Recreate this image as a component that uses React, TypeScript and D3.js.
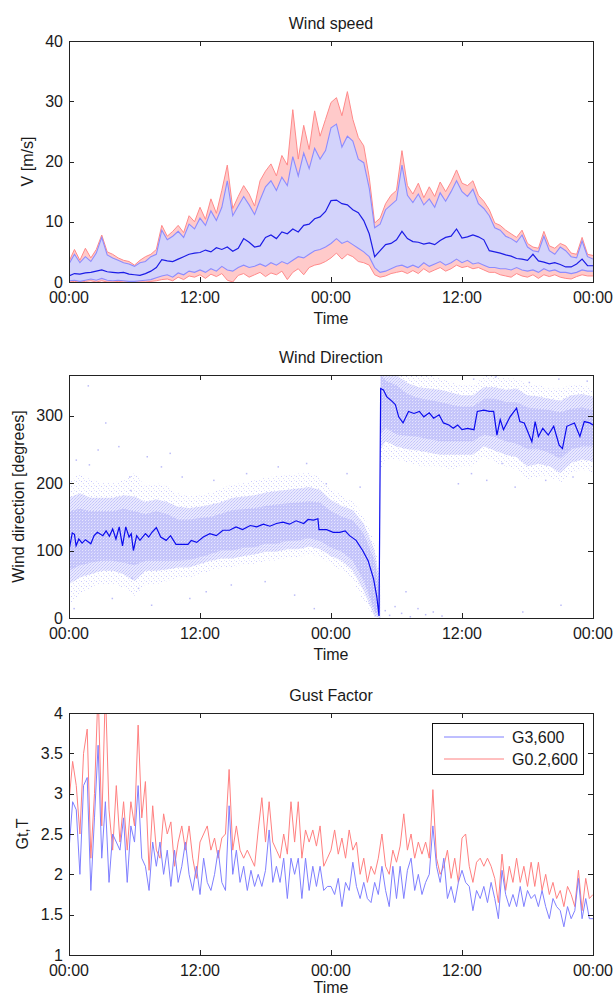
import React from 'react';
import * as d3 from 'd3';

const W = 614;
const H = 996;
const FONT = '"Liberation Sans", Arial, sans-serif';

// x axis: 48 hours
const xTicks = [0, 12, 24, 36, 48];
const xTickLabels = ['00:00', '12:00', '00:00', '12:00', '00:00'];

// ---- Wind speed (every 30 min) ----
const wsMean = [
  1.0, 1.4, 1.3, 1.5, 1.6, 1.8, 2.0, 1.7, 1.6, 1.5,
  1.6, 1.3, 1.2, 1.1, 1.4, 1.8, 2.4, 3.7, 3.5, 3.4,
  3.8, 4.2, 4.6, 4.8, 4.9, 5.3, 5.0, 5.7, 5.4, 5.8,
  5.1, 5.6, 7.2, 6.6, 5.8, 6.0, 7.4, 7.8, 7.2, 8.3,
  8.0, 8.8, 8.3, 9.4, 9.6, 10.5, 10.8, 11.7, 13.5, 13.6,
  13.0, 12.8, 12.0, 11.5, 10.2, 8.0, 4.2, 5.2, 6.2, 6.4,
  7.0, 8.4, 7.2, 6.7, 6.6, 6.3, 6.5, 6.2, 6.9, 7.4,
  7.6, 8.8, 7.3, 7.5, 7.8, 7.5, 7.0, 5.2, 5.0, 4.8,
  4.5, 4.3, 3.9, 3.8, 3.6, 4.6, 3.5, 3.3, 3.0, 3.2,
  2.9, 2.5, 2.5, 3.0, 3.8, 2.7, 2.7,
];
const wsUpBlue = [
  3.0, 4.6, 3.2, 4.2, 3.4, 4.8, 7.4, 4.5, 4.0, 3.6,
  3.2, 3.0, 2.6, 3.2, 3.4, 4.2, 4.6, 8.6, 7.0, 7.6,
  8.4, 7.4, 9.6, 8.8, 10.6, 9.4, 11.8, 10.2, 12.4, 16.8,
  11.0, 12.6, 14.2, 12.8, 11.2, 13.6, 15.8, 16.8, 15.2, 17.4,
  16.0, 20.8, 17.6, 21.4, 18.8, 22.2, 20.4, 21.8, 25.6, 26.2,
  22.4, 24.2, 23.4, 20.4, 19.8, 15.6, 9.0, 9.6, 12.0, 12.8,
  13.6, 19.4, 14.4, 13.2, 14.6, 12.8, 13.8, 12.4, 14.8, 13.4,
  15.0, 16.8, 15.0, 14.2, 15.4, 13.0, 12.2, 11.0, 9.0, 8.6,
  7.6, 7.2, 6.6, 7.8, 5.8, 5.2, 5.0, 7.6, 5.2, 4.6,
  5.8, 5.2, 4.2, 4.0, 6.8, 4.2, 3.8,
];
const wsUpRed = [
  3.4, 5.4, 3.6, 5.6, 4.0, 5.4, 7.8, 5.0, 4.6, 4.0,
  3.6, 3.4, 2.8, 3.6, 4.2, 4.6, 5.4, 9.4, 7.6, 8.4,
  9.4, 8.2, 11.0, 10.0, 12.4, 10.4, 13.8, 11.4, 15.2, 19.4,
  12.2, 14.2, 16.0, 14.6, 12.6, 16.8, 18.4, 19.6, 17.6, 21.0,
  19.4, 28.6, 20.4, 26.0, 22.0, 28.4, 24.2, 27.0, 29.8, 30.6,
  27.6, 31.6, 27.0, 24.0, 22.6, 17.4, 9.8, 10.6, 13.0, 14.4,
  15.2, 21.8, 16.0, 14.6, 16.4, 14.0, 15.8, 14.2, 16.6, 15.0,
  16.6, 18.6, 16.4, 16.0, 16.8, 14.4, 13.4, 12.0, 9.8, 9.4,
  8.6, 8.0, 7.4, 8.6, 6.4, 5.8, 5.6, 8.4, 6.0, 5.6,
  6.4, 6.0, 4.8, 4.6, 7.4, 4.6, 4.4,
];
const wsLoBlue = [
  0.2, 0.3, 0.1, 0.3, 0.5, 0.3, 0.6, 0.3, 0.2, 0.3,
  0.2, 0.1, 0.1, 0.2, 0.3, 0.4, 0.7, 1.0, 1.2, 0.8,
  1.5, 1.2, 1.8, 1.6, 2.0, 1.6, 2.2, 1.8, 2.6, 2.0,
  1.8, 2.4, 2.8, 2.4, 2.6, 3.0, 2.6, 3.2, 2.8, 3.4,
  3.0, 3.6, 4.2, 4.0, 4.6, 5.2, 5.4, 5.8, 6.4, 7.2,
  6.4, 6.8, 6.2, 5.6, 5.0, 4.2, 2.4, 1.6, 1.8, 2.2,
  2.6, 2.8, 2.4, 2.8, 2.4, 3.2, 2.6, 3.0, 3.4, 2.8,
  3.2, 3.8, 3.2, 3.6, 3.0, 3.2, 2.8, 2.4, 2.4, 2.2,
  2.2, 2.0, 2.4, 2.0, 1.8, 2.0, 1.6, 2.2, 1.8, 2.0,
  1.6, 1.6, 1.4, 1.6, 2.0, 1.8, 1.8,
];
const wsLoRed = [
  0, 0.1, 0, 0.1, 0.2, 0, 0.2, 0, 0, 0.1,
  0, 0, 0, 0, 0, 0.1, 0.2, 0.4, 0.5, 0.2,
  0.8, 0.4, 1.0, 0.8, 1.2, 0.6, 1.3, 0.9, 1.4, 0.3,
  0, 1.1, 1.4, 0.8, 1.2, 1.6, 0.9, 1.5, 1.2, 1.8,
  0.4, 1.6, 2.2, 1.2, 2.4, 2.8, 3.0, 3.4, 4.0, 4.8,
  3.8, 4.6, 4.2, 3.4, 3.2, 2.8, 1.2, 0.8, 1.0, 1.4,
  1.6, 1.8, 1.4, 1.9, 1.4, 2.2, 1.6, 2.0, 2.4, 1.8,
  2.2, 2.8, 2.4, 2.6, 2.2, 2.4, 2.0, 1.6, 1.6, 1.2,
  1.0, 0.8, 1.4, 1.0, 0.8, 1.2, 0.6, 1.2, 0.9, 1.2,
  0.8, 0.6, 0.5, 0.9, 1.2, 1.0, 1.0,
];

// ---- Wind direction ----
const dirHours = [
  0, 0.3, 0.5, 0.65, 0.9, 1.2, 1.5, 2, 2.3, 2.6,
  3.1, 3.4, 3.7, 4, 4.3, 4.6, 4.9, 5.2, 5.5, 5.7,
  5.9, 6.2, 6.5, 7, 7.3, 7.6, 8, 8.4, 8.9, 9.3,
  9.8, 10.9, 11.2, 11.7, 12.3, 12.9, 13.5, 14.1, 14.7, 15.3,
  15.9, 16.6, 17.2, 17.8, 18.4, 19, 19.6, 20.2, 20.8, 21.5,
  21.9, 22.4, 22.8, 22.9, 23.6, 24.2, 24.8, 25.3, 25.7, 26.3,
  26.9, 27.4, 27.9, 28.2, 28.4, 28.55, 28.8, 29.1, 29.6, 29.9,
  30.2, 30.6, 31.1, 31.6, 32.1, 32.5, 33, 33.4, 33.9, 34.3,
  34.8, 35.2, 35.6, 36, 36.5, 37.1, 37.4, 38, 38.5, 38.9,
  39.2, 39.5, 39.8, 40.4, 41, 41.3, 41.7, 42.4, 42.7, 43,
  43.4, 43.9, 44.4, 44.9, 45.2, 45.6, 46.3, 46.8, 47.2, 47.7,
  48,
];
const dirMean = [
  100, 126, 124, 107, 117, 111, 116, 110, 122, 127,
  122, 129, 121, 132, 117, 135, 107, 135, 120, 125,
  100, 122, 115, 125, 120, 127, 134, 120, 115, 122,
  109, 109, 115, 112, 120, 125, 122, 130, 130, 135,
  131, 137, 135, 139, 136, 140, 142, 139, 144, 140,
  146, 145, 147, 131, 131, 127, 127, 129, 122, 115,
  100, 85, 58, 31, 3, 340, 338, 328, 321, 316,
  298, 289, 306, 303, 306, 298, 304, 296, 301, 289,
  286, 281, 286, 279, 281, 279, 306, 308, 306, 306,
  271, 294, 279, 298, 311, 291, 289, 261, 291, 269,
  281, 271, 284, 256, 251, 284, 289, 269, 291, 289,
  286,
];
// scatter cloud envelopes, before and after the wrap-around at ~04:30
const cloudAHours = [
  0, 1, 2, 3, 4, 5, 6, 7, 8, 9, 10, 11, 12, 13, 14, 15, 16, 17, 18, 19,
  20, 21, 22, 23, 24, 25, 26, 27, 28, 28.5,
];
const denseALo = [70, 78, 82, 85, 85, 82, 78, 85, 85, 85, 85, 86, 90, 95, 100, 100, 104, 105, 110, 110, 114, 115, 118, 114, 104, 98, 85, 55, 10, 0];
const denseAHi = [158, 162, 158, 158, 158, 162, 158, 154, 158, 154, 146, 146, 148, 150, 155, 160, 161, 163, 166, 168, 170, 171, 173, 171, 158, 150, 145, 125, 85, 35];
const midALo = [50, 60, 65, 70, 70, 65, 55, 70, 70, 72, 75, 75, 80, 85, 88, 88, 92, 94, 98, 98, 102, 102, 106, 102, 92, 85, 70, 40, 2, 0];
const midAHi = [178, 185, 178, 178, 178, 182, 180, 172, 176, 172, 165, 163, 165, 168, 172, 178, 180, 182, 186, 188, 190, 192, 194, 190, 175, 166, 160, 140, 100, 50];
const sparseALo = [20, 35, 45, 50, 50, 45, 30, 50, 50, 55, 60, 60, 65, 70, 75, 75, 80, 80, 85, 85, 90, 90, 95, 90, 80, 70, 55, 25, 0, 0];
const sparseAHi = [200, 215, 205, 200, 200, 205, 215, 195, 200, 195, 185, 180, 182, 186, 192, 198, 200, 204, 208, 210, 212, 214, 215, 208, 192, 182, 172, 152, 112, 60];
const cloudBHours = [28.55, 29, 30, 31, 32, 33, 34, 35, 36, 37, 38, 39, 40, 41, 42, 43, 44, 45, 46, 47, 48];
const denseBLo = [272, 282, 272, 270, 268, 265, 262, 262, 262, 262, 272, 268, 262, 258, 250, 250, 245, 236, 250, 254, 254];
const denseBHi = [360, 352, 345, 332, 326, 323, 320, 316, 313, 313, 325, 325, 320, 320, 312, 310, 308, 305, 310, 312, 308];
const midBLo = [250, 262, 254, 250, 248, 245, 242, 242, 242, 242, 254, 248, 242, 238, 225, 228, 225, 215, 230, 235, 232];
const midBHi = [360, 360, 360, 348, 342, 340, 338, 334, 330, 330, 342, 342, 338, 340, 330, 328, 325, 322, 330, 332, 328];
const sparseBLo = [220, 235, 235, 230, 225, 225, 225, 220, 225, 225, 240, 230, 225, 220, 205, 210, 210, 200, 215, 220, 215];
const sparseBHi = [360, 360, 360, 360, 360, 360, 355, 350, 345, 345, 360, 360, 355, 355, 345, 345, 340, 340, 345, 345, 340];
const dirOutliers: [number, number][] = [
  [0.4, 15], [0.6, 235], [1.7, 345], [1.8, 228], [2.6, 250], [3.3, 290], [3.9, 30],
  [4.5, 255], [5.5, 210], [5.6, 190], [5.7, 60], [6.3, 45], [7.1, 240], [7.5, 20],
  [8.4, 225], [9.2, 245], [10.3, 210], [11.0, 30], [12.5, 40], [13.2, 205], [14.8, 50],
  [16.2, 215], [17.9, 55], [19.1, 225], [20.6, 35], [21.7, 230], [22.4, 15], [23.5, 200],
  [25.4, 215], [26.6, 195], [28.9, 12], [29.3, 5], [29.8, 18], [30.4, 8], [31.2, 3],
  [31.9, 15], [32.6, 6], [33.3, 10], [34.1, 4], [30.8, 40], [35.6, 200], [36.8, 215],
  [38.2, 205], [39.6, 230], [40.8, 195], [42.1, 350], [43.6, 205], [44.8, 355],
  [46.1, 210], [47.4, 352], [37.0, 355], [39.0, 358], [41.5, 10], [45.0, 20],
];

// ---- Gust factor (every 20 min) ----
const gust3 = [
  2.3, 2.9, 2.8, 2.0, 3.1, 3.2, 1.8, 2.7, 3.6, 2.2,
  2.9, 1.9, 2.5, 2.4, 2.3, 2.7, 1.9, 2.6, 2.4, 3.1,
  2.2, 2.1, 1.8, 2.4, 2.1, 2.4, 2.0, 2.3, 1.85, 2.3,
  1.9, 2.1, 2.4, 2.0, 1.8, 2.1, 1.75, 2.2, 1.9, 1.8,
  2.0, 2.3, 1.9, 1.8, 2.85, 2.0, 2.3, 1.9, 2.1, 1.8,
  2.05, 1.85, 2.0, 1.85, 2.05, 2.55, 1.9, 2.1, 1.9, 2.2,
  1.7, 2.2, 2.0, 2.2, 1.7, 2.2, 1.8, 2.1, 1.85, 2.1,
  1.8, 1.85, 1.85, 1.75, 1.95, 1.6, 1.9, 1.8, 2.15, 1.85,
  1.7, 1.9, 1.7, 1.65, 1.9, 1.75, 2.1, 1.8, 1.6, 2.1,
  1.7, 2.1, 1.7, 2.05, 2.2, 1.8, 2.0, 1.75, 1.9, 2.0,
  2.6, 2.1, 1.9, 2.2, 1.7, 1.85, 1.65, 1.9, 2.05, 1.9,
  1.85, 1.55, 1.8, 1.7, 1.85, 1.65, 1.9, 1.7, 1.45, 2.05,
  1.75, 1.6, 1.75, 1.6, 1.85, 1.6, 1.8, 1.7, 1.75, 1.6,
  1.8, 1.6, 1.45, 1.7, 1.6, 1.55, 1.35, 1.6, 1.45, 1.55,
  1.95, 1.45, 1.7, 1.45, 1.45,
];
const gust02 = [
  2.9, 3.4, 3.1, 2.5, 3.5, 3.8, 2.2, 3.0, 4.3, 2.6,
  4.3, 2.8, 2.3, 3.1, 2.4, 2.9, 2.3, 2.9, 2.6, 3.85,
  2.7, 3.15, 2.05, 2.85, 2.3, 2.2, 2.75, 2.5, 2.65, 2.1,
  2.4, 2.6, 2.3, 2.6, 2.2, 1.95, 2.4, 2.5, 2.6, 2.3,
  2.45, 2.2, 2.45, 2.5, 3.3, 2.3, 2.6, 2.3, 2.2, 2.3,
  2.2, 2.1, 2.55, 2.95, 2.4, 2.9, 2.4, 2.3, 2.2, 2.5,
  2.25, 2.9, 2.4, 2.9, 2.2, 2.55, 2.4, 2.55, 2.35, 2.6,
  2.1, 2.2, 2.3, 2.55, 2.25, 2.45, 2.2, 2.55, 2.3, 2.4,
  2.0, 2.2, 1.9, 2.1, 2.0, 2.2, 2.5, 2.1, 2.0, 2.3,
  2.15, 2.35, 2.75, 2.3, 2.5, 2.2, 2.4, 2.25, 2.4, 2.2,
  3.05, 2.2, 2.0, 2.1, 2.3, 1.95, 2.2, 1.9, 2.45, 2.5,
  2.1, 1.9, 2.15, 2.2, 2.1, 2.2, 2.1, 1.95, 1.65, 2.25,
  1.8, 2.1, 1.9, 2.2, 1.9, 2.1, 1.85, 2.15, 1.85, 2.15,
  1.8, 2.0, 1.75, 1.9, 1.7, 1.8, 1.6, 1.85, 1.75, 1.6,
  2.05, 1.55, 1.95, 1.7, 1.75,
];
const gustLegend = ['G3,600', 'G0.2,600'];

const left = 69;
const right = 593;
const x = d3.scaleLinear().domain([0, 48]).range([left, right]);

type FrameProps = {
  id: string;
  top: number;
  bottom: number;
  y: d3.ScaleLinear<number, number>;
  yTicks: number[];
  title: string;
  ylabel: string;
  ylabelX: number;
  timeDy?: number;
  children?: React.ReactNode;
};

function Frame({ id, top, bottom, y, yTicks, title, ylabel, ylabelX, timeDy = 42, children }: FrameProps) {
  const tl = 5;
  return (
    <g>
      <defs>
        <clipPath id={id}>
          <rect x={left} y={top} width={right - left} height={bottom - top} />
        </clipPath>
      </defs>
      <g clipPath={`url(#${id})`}>{children}</g>
      <rect x={left + 0.5} y={top + 0.5} width={right - left} height={bottom - top}
        fill="none" stroke="#222" strokeWidth={1} shapeRendering="crispEdges" />
      {xTicks.map((t, i) => (
        <g key={'x' + i}>
          <line x1={Math.round(x(t)) + 0.5} x2={Math.round(x(t)) + 0.5} y1={bottom} y2={bottom - tl} stroke="#222" />
          <line x1={Math.round(x(t)) + 0.5} x2={Math.round(x(t)) + 0.5} y1={top} y2={top + tl} stroke="#222" />
          <text x={x(t)} y={bottom + 21} textAnchor="middle" fontSize={16} fill="#1a1a1a">{xTickLabels[i]}</text>
        </g>
      ))}
      {yTicks.map((t, i) => (
        <g key={'y' + i}>
          <line x1={left} x2={left + tl} y1={Math.round(y(t)) + 0.5} y2={Math.round(y(t)) + 0.5} stroke="#222" />
          <line x1={right} x2={right - tl} y1={Math.round(y(t)) + 0.5} y2={Math.round(y(t)) + 0.5} stroke="#222" />
          <text x={left - 6} y={y(t)} dy="0.35em" textAnchor="end" fontSize={16} fill="#1a1a1a">{String(t)}</text>
        </g>
      ))}
      <text x={(left + right) / 2} y={top - 12} textAnchor="middle" fontSize={16} fill="#1a1a1a">{title}</text>
      <text x={(left + right) / 2} y={bottom + timeDy} textAnchor="middle" fontSize={16} fill="#1a1a1a">Time</text>
      <text transform={`translate(${ylabelX},${(top + bottom) / 2}) rotate(-90)`} dy="0.35em"
        textAnchor="middle" fontSize={16} fill="#1a1a1a">{ylabel}</text>
    </g>
  );
}

function WindSpeed() {
  const top = 41, bottom = 282;
  const y = d3.scaleLinear().domain([0, 40]).range([bottom, top]);
  const hx = (i: number) => x(i * 0.5);
  const band = (lo: number[], hi: number[]) =>
    d3.area<number>().x((_, i) => hx(i)).y0((_, i) => y(lo[i])).y1((d) => y(d))(hi) || '';
  const line = (v: number[]) => d3.line<number>().x((_, i) => hx(i)).y((d) => y(d))(v) || '';
  return (
    <Frame id="c1" top={top} bottom={bottom} y={y} yTicks={[0, 10, 20, 30, 40]}
      title="Wind speed" ylabel="V [m/s]" ylabelX={27}>
      <path d={band(wsLoRed, wsUpRed)} fill="#ffcaca" />
      <path d={band(wsLoBlue, wsUpBlue)} fill="#d3d3fb" />
      <path d={line(wsUpRed)} fill="none" stroke="#ff8a8a" strokeWidth={1} />
      <path d={line(wsLoRed)} fill="none" stroke="#ff8a8a" strokeWidth={1} />
      <path d={line(wsUpBlue)} fill="none" stroke="#8c8cff" strokeWidth={1.1} />
      <path d={line(wsLoBlue)} fill="none" stroke="#8c8cff" strokeWidth={1.1} />
      <path d={line(wsMean)} fill="none" stroke="#1c1ce6" strokeWidth={1.2} />
    </Frame>
  );
}

function WindDirection() {
  const top = 375, bottom = 618;
  const y = d3.scaleLinear().domain([0, 360]).range([bottom, top]);
  const band = (hours: number[], lo: number[], hi: number[]) =>
    d3.area<number>().x((h) => x(h)).y0((_, i) => y(lo[i])).y1((_, i) => y(hi[i]))(hours) || '';
  const meanPath = d3.line<number>().x((h) => x(h)).y((_, i) => y(dirMean[i]))(dirHours) || '';
  return (
    <Frame id="c2" top={top} bottom={bottom} y={y} yTicks={[0, 100, 200, 300]}
      title="Wind Direction" ylabel="Wind direction [degrees]" ylabelX={18}>
      <defs>
        <pattern id="sparseDots" width="5" height="5" patternUnits="userSpaceOnUse">
          <rect x="1" y="1" width="1" height="1" fill="#cacafb" />
          <rect x="3" y="3" width="1" height="1" fill="#d8d8fc" />
          <rect x="4" y="0" width="1" height="1" fill="#e2e2fd" />
        </pattern>
        <pattern id="midDots" width="3" height="3" patternUnits="userSpaceOnUse">
          <rect width="3" height="3" fill="#e8e8fe" />
          <rect x="0" y="0" width="1" height="1" fill="#c2c2fa" />
          <rect x="2" y="1" width="1" height="1" fill="#c8c8fb" />
          <rect x="1" y="2" width="1" height="1" fill="#d0d0fb" />
        </pattern>
        <pattern id="denseDots" width="3" height="3" patternUnits="userSpaceOnUse">
          <rect width="3" height="3" fill="#c4c4fa" />
          <rect x="1" y="1" width="1" height="1" fill="#e6e6fe" />
          <rect x="2" y="0" width="1" height="1" fill="#d6d6fc" />
        </pattern>
      </defs>
      <path d={band(cloudAHours, sparseALo, sparseAHi)} fill="url(#sparseDots)" />
      <path d={band(cloudBHours, sparseBLo, sparseBHi)} fill="url(#sparseDots)" />
      <path d={band(cloudAHours, midALo, midAHi)} fill="url(#midDots)" />
      <path d={band(cloudBHours, midBLo, midBHi)} fill="url(#midDots)" />
      <path d={band(cloudAHours, denseALo, denseAHi)} fill="url(#denseDots)" />
      <path d={band(cloudBHours, denseBLo, denseBHi)} fill="url(#denseDots)" />
      {dirOutliers.map(([h, d], i) => (
        <rect key={i} x={x(h)} y={y(d)} width={1.5} height={1.5} fill="#bcbcf7" />
      ))}
      <path d={meanPath} fill="none" stroke="#0c0cee" strokeWidth={1.2} />
    </Frame>
  );
}

function GustFactor() {
  const top = 713, bottom = 955;
  const y = d3.scaleLinear().domain([1, 4]).range([bottom, top]);
  const line = (v: number[]) => d3.line<number>().x((_, i) => x(i / 3)).y((d) => y(d))(v) || '';
  const colors = ['#7f7fff', '#ff8080'];
  return (
    <g>
      <Frame id="c3" top={top} bottom={bottom} y={y} yTicks={[1, 1.5, 2, 2.5, 3, 3.5, 4]}
        title="Gust Factor" ylabel="Gt,T" ylabelX={22} timeDy={38}>
        <path d={line(gust02)} fill="none" stroke={colors[1]} strokeWidth={1} />
        <path d={line(gust3)} fill="none" stroke={colors[0]} strokeWidth={1} />
      </Frame>
      <rect x={432.5} y={723.5} width={151} height={51} fill="#fff" stroke="#111" strokeWidth={1} />
      {gustLegend.map((name, i) => (
        <g key={name}>
          <line x1={444} x2={504} y1={737 + i * 22} y2={737 + i * 22} stroke={colors[i]} strokeWidth={1} />
          <text x={512} y={737 + i * 22} dy="0.35em" fontSize={16} fill="#1a1a1a">{name}</text>
        </g>
      ))}
    </g>
  );
}

export default function App() {
  return (
    <svg width={W} height={H} viewBox={`0 0 ${W} ${H}`}
      style={{ position: 'absolute', left: 0, top: 0, background: '#fff', fontFamily: FONT }}>
      <rect width={W} height={H} fill="#fff" />
      <WindSpeed />
      <WindDirection />
      <GustFactor />
    </svg>
  );
}
